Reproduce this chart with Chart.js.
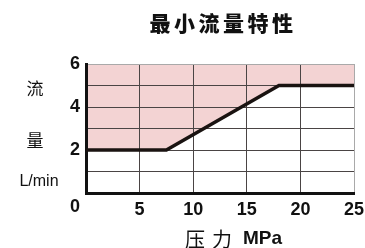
<!DOCTYPE html>
<html lang="zh">
<head>
    <meta charset="UTF-8">
    <title>最小流量特性</title>
    <script src="https://cdn.jsdelivr.net/npm/chart.js"></script>
    <style>
        body { margin: 0; background: #fff; }
        .wrap { width: 365px; height: 248px; position: relative; }
    </style>
</head>
<body>
    <div class="wrap"><canvas id="flowChart"></canvas></div>

    <script>
        // Data
        const pressure = [0, 7.5, 18, 25];      // MPa
        const flow = [2, 2, 5, 5];              // L/min
        const xTicks = [0, 5, 10, 15, 20, 25];
        const yLabelTicks = [2, 4, 6];

        const sans = '"Liberation Sans", Arial, sans-serif';
        const cjk = '"Noto Sans CJK SC", sans-serif';

        // Title, axis captions and the offset "0" label
        const textPlugin = {
            id: 'textPlugin',
            afterDraw(chart) {
                const ctx = chart.ctx;
                const x = chart.scales.x;
                ctx.save();
                ctx.fillStyle = '#111';
                ctx.textBaseline = 'middle';

                // title, spaced out
                ctx.font = '900 21px ' + cjk;
                ctx.textAlign = 'center';
                const title = '最小流量特性';
                for (let i = 0; i < title.length; i++) {
                    ctx.fillText(title[i], 160 + i * 24.5, 23);
                }

                // y caption
                ctx.font = '17px ' + cjk;
                ctx.fillText('流', 35, 89);
                ctx.fillText('量', 35, 141);
                ctx.font = '16px ' + sans;
                ctx.fillText('L/min', 39, 182);

                // x caption
                ctx.font = '20px ' + cjk;
                ctx.fillText('压', 195, 239);
                ctx.fillText('力', 222, 239);
                ctx.font = 'bold 19px ' + sans;
                ctx.textAlign = 'left';
                ctx.fillText('MPa', 243, 239);

                // "0" sits left of the axis corner
                ctx.font = 'bold 18px ' + sans;
                ctx.textAlign = 'center';
                ctx.fillText('0', x.getPixelForValue(0) - 11, 207);
                ctx.restore();
            }
        };

        const gridColor = (max) => (c) => {
            if (c.tick.value === 0) return 'rgba(0,0,0,0)';
            if (c.tick.value === max) return '#a9a9a9';
            return '#4a4444';
        };

        new Chart(document.getElementById('flowChart'), {
            type: 'line',
            data: {
                datasets: [{
                    data: pressure.map((p, i) => ({ x: p, y: flow[i] })),
                    borderColor: '#1a1311',
                    borderWidth: 3.5,
                    backgroundColor: '#f3d3d3',
                    fill: 'end',
                    pointRadius: 0,
                    tension: 0
                }]
            },
            options: {
                responsive: true,
                maintainAspectRatio: false,
                animation: false,
                layout: { padding: { left: 0, top: 64, right: 11, bottom: 0 } },
                plugins: {
                    legend: { display: false },
                    tooltip: { enabled: false },
                    filler: { drawTime: 'beforeDraw' }
                },
                scales: {
                    x: {
                        type: 'linear',
                        min: 0,
                        max: 25,
                        afterBuildTicks: (s) => { s.ticks = xTicks.map(v => ({ value: v })); },
                        afterFit: (s) => { s.height = 55; s.paddingRight = 0; },
                        grid: { color: gridColor(25), lineWidth: 1, drawTicks: false },
                        border: { display: true, color: '#111', width: 3 },
                        ticks: {
                            padding: 6,
                            autoSkip: false,
                            maxRotation: 0,
                            color: '#111',
                            font: { family: sans, size: 18, weight: 'bold' },
                            callback: (v) => v === 0 ? '' : v
                        }
                    },
                    y: {
                        min: 0,
                        max: 6,
                        ticks: {
                            stepSize: 1,
                            padding: 6,
                            autoSkip: false,
                            color: '#111',
                            font: { family: sans, size: 18, weight: 'bold' },
                            callback: (v) => yLabelTicks.includes(v) ? v : ''
                        },
                        afterFit: (s) => { s.width = 86; s.paddingTop = 0; },
                        grid: { color: gridColor(6), lineWidth: 1, drawTicks: false },
                        border: { display: true, color: '#111', width: 3 }
                    }
                }
            },
            plugins: [textPlugin]
        });
    </script>
</body>
</html>
